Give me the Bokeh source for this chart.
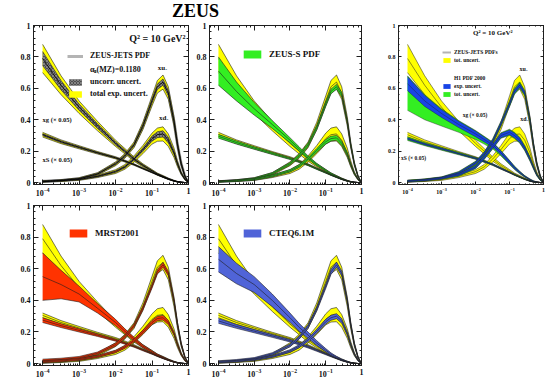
import math
from bokeh.plotting import figure
from bokeh.models import (Range1d, LogAxis, LinearAxis, SingleIntervalTicker,
                          CustomJSTickFormatter, Label, Legend, LegendItem, Div)
from bokeh.layouts import column, row
from bokeh.embed import file_html
from bokeh.resources import INLINE

# ---------------- data ----------------
X = [1e-4, 3.2e-4, 1e-3, 3.2e-3, 0.01, 0.018, 0.032, 0.056, 0.1, 0.14, 0.2, 0.28, 0.4, 0.5, 0.63, 0.8, 1.0]

# ZEUS-JETS: central, total exp. uncertainty, uncorrelated uncertainty
ZJ_UV = [0.008, 0.014, 0.025, 0.055, 0.12, 0.17, 0.24, 0.36, 0.52, 0.61, 0.64, 0.57, 0.39, 0.24, 0.12, 0.04, 0.0]
ZJ_UV_TOT = [0.004, 0.005, 0.006, 0.008, 0.012, 0.015, 0.018, 0.024, 0.032, 0.04, 0.045, 0.04, 0.03, 0.02, 0.012, 0.005, 0.0]
ZJ_UV_UNC = [0.002, 0.003, 0.003, 0.004, 0.006, 0.008, 0.009, 0.012, 0.015, 0.018, 0.02, 0.018, 0.014, 0.01, 0.006, 0.003, 0.0]
ZJ_DV = [0.006, 0.012, 0.02, 0.04, 0.07, 0.1, 0.15, 0.21, 0.28, 0.305, 0.31, 0.27, 0.19, 0.12, 0.06, 0.02, 0.0]
ZJ_DV_TOT = [0.004, 0.005, 0.006, 0.008, 0.012, 0.015, 0.02, 0.026, 0.035, 0.042, 0.045, 0.04, 0.03, 0.02, 0.01, 0.004, 0.0]
ZJ_DV_UNC = [0.002, 0.002, 0.003, 0.004, 0.006, 0.007, 0.009, 0.012, 0.016, 0.019, 0.02, 0.018, 0.013, 0.009, 0.005, 0.002, 0.0]
ZJ_G = [0.79, 0.62, 0.48, 0.36, 0.25, 0.20, 0.15, 0.11, 0.075, 0.055, 0.04, 0.025, 0.012, 0.006, 0.002, 0.0005, 0.0]
ZJ_G_TOT = [0.09, 0.06, 0.04, 0.03, 0.02, 0.017, 0.014, 0.01, 0.008, 0.006, 0.005, 0.004, 0.003, 0.002, 0.001, 0.0005, 0.0]
ZJ_G_UNC = [0.045, 0.03, 0.02, 0.015, 0.01, 0.008, 0.007, 0.005, 0.004, 0.003, 0.002, 0.002, 0.0015, 0.001, 0.0005, 0.0, 0.0]
ZJ_S = [0.305, 0.26, 0.225, 0.19, 0.158, 0.137, 0.115, 0.09, 0.065, 0.05, 0.035, 0.022, 0.01, 0.005, 0.002, 0.0005, 0.0]
ZJ_S_TOT = [0.015, 0.012, 0.01, 0.008, 0.007, 0.006, 0.005, 0.004, 0.003, 0.003, 0.002, 0.002, 0.001, 0.001, 0.0005, 0.0, 0.0]
ZJ_S_UNC = [0.007, 0.006, 0.005, 0.004, 0.0035, 0.003, 0.0025, 0.002, 0.0015, 0.0015, 0.001, 0.001, 0.0005, 0.0005, 0.0, 0.0, 0.0]

# ZEUS-S
ZS_UV = [0.008, 0.014, 0.026, 0.058, 0.12, 0.17, 0.24, 0.35, 0.5, 0.58, 0.61, 0.56, 0.39, 0.24, 0.12, 0.04, 0.0]
ZS_UV_ERR = [0.003, 0.004, 0.005, 0.006, 0.008, 0.01, 0.012, 0.014, 0.015, 0.015, 0.015, 0.014, 0.012, 0.009, 0.006, 0.003, 0.0]
ZS_DV = [0.006, 0.011, 0.02, 0.042, 0.075, 0.105, 0.15, 0.205, 0.26, 0.28, 0.285, 0.25, 0.18, 0.115, 0.058, 0.02, 0.0]
ZS_DV_ERR = [0.003, 0.004, 0.005, 0.006, 0.008, 0.009, 0.01, 0.012, 0.014, 0.015, 0.015, 0.014, 0.011, 0.008, 0.005, 0.002, 0.0]
ZS_G = [0.71, 0.58, 0.47, 0.37, 0.27, 0.215, 0.16, 0.115, 0.078, 0.057, 0.04, 0.025, 0.012, 0.006, 0.002, 0.0005, 0.0]
ZS_G_ERR = [0.09, 0.06, 0.04, 0.025, 0.016, 0.013, 0.01, 0.008, 0.006, 0.005, 0.004, 0.003, 0.002, 0.001, 0.001, 0.0, 0.0]
ZS_S = [0.295, 0.255, 0.22, 0.186, 0.153, 0.133, 0.112, 0.088, 0.063, 0.048, 0.034, 0.021, 0.01, 0.005, 0.002, 0.0005, 0.0]
ZS_S_ERR = [0.012, 0.01, 0.008, 0.007, 0.006, 0.005, 0.004, 0.004, 0.003, 0.002, 0.002, 0.001, 0.001, 0.001, 0.0, 0.0, 0.0]

# MRST2001
MR_UV = [0.02, 0.026, 0.037, 0.065, 0.12, 0.17, 0.24, 0.35, 0.49, 0.58, 0.625, 0.57, 0.4, 0.25, 0.125, 0.04, 0.0]
MR_UV_ERR = [0.008, 0.008, 0.008, 0.008, 0.01, 0.01, 0.011, 0.012, 0.013, 0.014, 0.015, 0.014, 0.012, 0.009, 0.006, 0.003, 0.0]
MR_DV = [0.012, 0.017, 0.026, 0.045, 0.077, 0.105, 0.145, 0.2, 0.26, 0.285, 0.29, 0.26, 0.19, 0.12, 0.06, 0.02, 0.0]
MR_DV_ERR = [0.006, 0.006, 0.006, 0.007, 0.008, 0.009, 0.01, 0.012, 0.013, 0.014, 0.015, 0.013, 0.011, 0.008, 0.005, 0.002, 0.0]
MR_G = [0.55, 0.5, 0.44, 0.35, 0.26, 0.205, 0.155, 0.11, 0.075, 0.055, 0.04, 0.025, 0.012, 0.006, 0.002, 0.0005, 0.0]
MR_G_ERR = [0.15, 0.09, 0.05, 0.03, 0.02, 0.015, 0.012, 0.009, 0.007, 0.005, 0.004, 0.003, 0.002, 0.001, 0.001, 0.0, 0.0]
MR_S = [0.275, 0.24, 0.21, 0.18, 0.148, 0.128, 0.108, 0.085, 0.062, 0.047, 0.033, 0.021, 0.01, 0.005, 0.002, 0.0005, 0.0]
MR_S_ERR = [0.015, 0.012, 0.01, 0.008, 0.006, 0.005, 0.004, 0.004, 0.003, 0.002, 0.002, 0.001, 0.001, 0.001, 0.0, 0.0, 0.0]

# CTEQ6.1M
CT_UV = [0.012, 0.02, 0.032, 0.062, 0.115, 0.165, 0.235, 0.345, 0.49, 0.58, 0.625, 0.57, 0.4, 0.25, 0.125, 0.04, 0.0]
CT_UV_ERR = [0.006, 0.006, 0.006, 0.007, 0.009, 0.01, 0.012, 0.013, 0.015, 0.016, 0.017, 0.016, 0.013, 0.01, 0.007, 0.003, 0.0]
CT_DV = [0.01, 0.015, 0.024, 0.045, 0.08, 0.11, 0.15, 0.205, 0.265, 0.29, 0.3, 0.27, 0.19, 0.12, 0.06, 0.02, 0.0]
CT_DV_ERR = [0.005, 0.005, 0.005, 0.006, 0.008, 0.009, 0.011, 0.013, 0.015, 0.016, 0.016, 0.015, 0.012, 0.009, 0.006, 0.003, 0.0]
CT_G = [0.66, 0.57, 0.5, 0.4, 0.29, 0.23, 0.18, 0.13, 0.085, 0.06, 0.04, 0.025, 0.012, 0.006, 0.002, 0.0005, 0.0]
CT_G_ERR = [0.08, 0.065, 0.05, 0.04, 0.03, 0.025, 0.02, 0.015, 0.01, 0.008, 0.006, 0.004, 0.003, 0.002, 0.001, 0.0, 0.0]
CT_S = [0.27, 0.235, 0.205, 0.175, 0.145, 0.125, 0.105, 0.083, 0.06, 0.046, 0.032, 0.02, 0.01, 0.005, 0.002, 0.0005, 0.0]
CT_S_ERR = [0.015, 0.012, 0.01, 0.009, 0.008, 0.007, 0.006, 0.005, 0.004, 0.003, 0.002, 0.002, 0.001, 0.001, 0.0, 0.0, 0.0]

# H1 PDF 2000
H1_UV = [0.01, 0.018, 0.03, 0.062, 0.125, 0.185, 0.265, 0.375, 0.5, 0.58, 0.62, 0.57, 0.4, 0.25, 0.125, 0.04, 0.0]
H1_UV_EXP = [0.003, 0.004, 0.005, 0.006, 0.008, 0.009, 0.01, 0.011, 0.012, 0.013, 0.013, 0.012, 0.01, 0.008, 0.005, 0.002, 0.0]
H1_UV_TOT = [0.005, 0.006, 0.007, 0.009, 0.011, 0.012, 0.014, 0.016, 0.018, 0.019, 0.02, 0.018, 0.015, 0.011, 0.007, 0.003, 0.0]
H1_DV = [0.01, 0.016, 0.028, 0.05, 0.1, 0.16, 0.23, 0.3, 0.32, 0.3, 0.27, 0.22, 0.15, 0.1, 0.05, 0.017, 0.0]
H1_DV_EXP = [0.004, 0.004, 0.005, 0.006, 0.008, 0.01, 0.012, 0.014, 0.015, 0.015, 0.014, 0.012, 0.01, 0.008, 0.005, 0.002, 0.0]
H1_DV_TOT = [0.006, 0.006, 0.007, 0.009, 0.011, 0.013, 0.016, 0.018, 0.02, 0.02, 0.019, 0.017, 0.014, 0.011, 0.007, 0.003, 0.0]
H1_G = [0.63, 0.52, 0.44, 0.37, 0.31, 0.275, 0.24, 0.19, 0.13, 0.095, 0.065, 0.04, 0.02, 0.01, 0.004, 0.001, 0.0]
H1_G_EXP = [0.045, 0.035, 0.025, 0.02, 0.018, 0.016, 0.014, 0.012, 0.01, 0.008, 0.006, 0.004, 0.003, 0.002, 0.001, 0.0, 0.0]
H1_G_TOT_LO = [0.17, 0.12, 0.08, 0.05, 0.035, 0.03, 0.025, 0.02, 0.015, 0.012, 0.009, 0.006, 0.004, 0.003, 0.001, 0.0, 0.0]
H1_G_TOT_HI = [0.05, 0.04, 0.03, 0.025, 0.022, 0.02, 0.018, 0.015, 0.012, 0.01, 0.008, 0.005, 0.003, 0.002, 0.001, 0.0, 0.0]
H1_S = [0.28, 0.245, 0.215, 0.185, 0.155, 0.135, 0.115, 0.09, 0.065, 0.05, 0.035, 0.022, 0.01, 0.005, 0.002, 0.0005, 0.0]
H1_S_EXP = [0.006, 0.005, 0.005, 0.004, 0.004, 0.003, 0.003, 0.003, 0.002, 0.002, 0.001, 0.001, 0.001, 0.0005, 0.0, 0.0, 0.0]
H1_S_TOT = [0.012, 0.01, 0.009, 0.008, 0.007, 0.006, 0.005, 0.004, 0.003, 0.003, 0.002, 0.002, 0.001, 0.001, 0.0005, 0.0, 0.0]

# ---------------- styling ----------------
SERIF = "Liberation Serif"
INK = "#1e1e1e"
YELLOW = "#ffff00"
GREEN = "#33ee22"
RED = "#ff3300"
BLUE_CT = "#5064d8"
BLUE_H1 = "#1844e6"
HATCH_FILL = "#4e4e4e"
GRAY_LINE = "#b4b4b4"

EMPTY = "return ''"
YFMT = ("if (Math.abs(tick) < 1e-9) return '0';"
        "if (Math.abs(tick - 1) < 1e-9) return '1';"
        "return tick.toFixed(1);")


def style_axis(ax, fs, tick_in):
    ax.axis_line_color = INK
    ax.axis_line_width = 1
    ax.major_tick_in = tick_in
    ax.major_tick_out = 0
    ax.minor_tick_in = max(1, tick_in // 2)
    ax.minor_tick_out = 0
    ax.major_tick_line_color = INK
    ax.minor_tick_line_color = INK
    ax.major_label_text_font = SERIF
    ax.major_label_text_font_style = "bold"
    ax.major_label_text_font_size = f"{fs}px"
    ax.major_label_text_color = "#111111"
    ax.major_label_standoff = 3


def make_fig(w, h, mbl, mbr, mbt, mbb, xlo, fs, tick_in):
    p = figure(width=w, height=h, x_axis_type="log",
               x_range=Range1d(xlo, 1.0), y_range=Range1d(-0.012, 1.0),
               output_backend="svg", toolbar_location=None,
               min_border_left=mbl, min_border_right=mbr,
               min_border_top=mbt, min_border_bottom=mbb)
    p.xgrid.visible = False
    p.ygrid.visible = False
    p.outline_line_color = INK
    p.background_fill_color = "white"
    p.border_fill_color = "white"
    xa = p.xaxis[0]
    ya = p.yaxis[0]
    ya.ticker = SingleIntervalTicker(interval=0.2, num_minor_ticks=5)
    ya.formatter = CustomJSTickFormatter(code=YFMT)
    xa.major_label_overrides = {1: "1"}
    style_axis(xa, fs, tick_in)
    style_axis(ya, fs, tick_in)
    top = LogAxis(formatter=CustomJSTickFormatter(code=EMPTY))
    right = LinearAxis(ticker=SingleIntervalTicker(interval=0.2, num_minor_ticks=5),
                       formatter=CustomJSTickFormatter(code=EMPTY))
    for ax in (top, right):
        style_axis(ax, 1, tick_in)
        ax.major_label_standoff = 0
    p.add_layout(top, "above")
    p.add_layout(right, "right")
    return p


def band(p, c, e_lo, e_hi, color, lw=0.6, central=True, hatch=None):
    lo = [a - b for a, b in zip(c, e_lo)]
    hi = [a + b for a, b in zip(c, e_hi)]
    kw = {}
    if hatch:
        kw = dict(hatch_pattern=hatch, hatch_color="#a8a8a8", hatch_scale=3, hatch_weight=0.6)
    r = p.varea(x=X, y1=lo, y2=hi, fill_color=color, **kw)
    p.line(X, lo, line_color=INK, line_width=lw)
    p.line(X, hi, line_color=INK, line_width=lw)
    if central:
        p.line(X, c, line_color=INK, line_width=lw)
    return r


def zeus_jets(p, lw=0.6):
    rs = []
    for c, e in ((ZJ_G, ZJ_G_TOT), (ZJ_S, ZJ_S_TOT), (ZJ_UV, ZJ_UV_TOT), (ZJ_DV, ZJ_DV_TOT)):
        rs.append(band(p, c, e, e, YELLOW, lw=lw))
    return rs[0]


def add_legend(p, items, loc, fs, gw, gh, sp, standoff):
    lg = Legend(items=[LegendItem(label=t, renderers=[r]) for t, r in items],
                location=loc, orientation="vertical",
                glyph_width=gw, glyph_height=gh, label_height=gh, label_width=10,
                spacing=sp, padding=0, margin=0, label_standoff=standoff,
                label_text_font=SERIF, label_text_font_style="bold",
                label_text_font_size=f"{fs}px", label_text_color="#111111",
                border_line_color=None, background_fill_alpha=0)
    p.add_layout(lg)


def lab(p, x, y, text, fs, align="center", xu="data", yu="data", angle=0.0, xoff=0):
    p.add_layout(Label(x=x, y=y, x_units=xu, y_units=yu, text=text, x_offset=xoff,
                       text_font=SERIF, text_font_style="bold",
                       text_font_size=f"{fs}px", text_align=align,
                       text_baseline="middle", angle=angle, text_color="#111111"))


XLO = 10 ** -4.25
XLO3 = 10 ** -4.265

# ---------------- panel 1: ZEUS-JETS ----------------
f1 = make_fig(193, 180, 33, 5, 5, 16, XLO, 8, 5)
ln1 = f1.line(X, ZJ_UV, line_color=GRAY_LINE, line_width=3)
yel1 = zeus_jets(f1)
hat1 = None
for c, e in ((ZJ_G, ZJ_G_UNC), (ZJ_S, ZJ_S_UNC), (ZJ_UV, ZJ_UV_UNC), (ZJ_DV, ZJ_DV_UNC)):
    r = band(f1, c, e, e, HATCH_FILL, lw=0.5, central=False, hatch="x")
    hat1 = hat1 or r
for c in (ZJ_G, ZJ_S, ZJ_UV, ZJ_DV):
    f1.line(X, c, line_color="black", line_width=0.8)
blank1 = f1.line(x=[], y=[], line_alpha=0)
add_legend(f1, [("ZEUS-JETS PDF", ln1), ("αₛ(MZ)=0.1180", blank1),
                ("uncorr. uncert.", hat1), ("total exp. uncert.", yel1)],
           (34, 86), 8, 16, 8, 3, 7)
lab(f1, 0.195, 0.728, "xuᵥ", 7)
lab(f1, 0.21, 0.41, "xdᵥ", 7)
lab(f1, 1e-4, 0.40, "xg (× 0.05)", 6.5, align="left")
lab(f1, 1e-4, 0.146, "xS (× 0.05)", 6.5, align="left")
lab(f1, 0.83, 0.92, "Q² = 10 GeV²", 10, align="right")
lab(f1, -23, 144, "xf", 16, xu="screen", yu="screen", angle=math.pi / 2)

# ---------------- panel 2: ZEUS-S ----------------
f2 = make_fig(177, 180, 15, 9, 5, 16, XLO, 8, 5)
zeus_jets(f2)
grn2 = None
for c, e in ((ZS_G, ZS_G_ERR), (ZS_S, ZS_S_ERR), (ZS_UV, ZS_UV_ERR), (ZS_DV, ZS_DV_ERR)):
    r = band(f2, c, e, e, GREEN)
    grn2 = grn2 or r
add_legend(f2, [("ZEUS-S PDF", grn2)], (32, 125), 9, 22, 10, 0, 6)

# ---------------- panel 3: ZEUS-JETS vs H1 ----------------
f3 = make_fig(182, 180, 28, 9, 5, 16, XLO3, 6, 3)
ln3 = f3.line(X, ZJ_UV, line_color=GRAY_LINE, line_width=2)
yel3 = zeus_jets(f3, lw=0.5)
grn3 = band(f3, H1_G, H1_G_TOT_LO, H1_G_TOT_HI, GREEN, lw=0.4, central=False)
for c, e in ((H1_S, H1_S_TOT), (H1_UV, H1_UV_TOT), (H1_DV, H1_DV_TOT)):
    band(f3, c, e, e, GREEN, lw=0.4, central=False)
blu3 = None
for c, e in ((H1_G, H1_G_EXP), (H1_S, H1_S_EXP), (H1_UV, H1_UV_EXP), (H1_DV, H1_DV_EXP)):
    r = band(f3, c, e, e, BLUE_H1, lw=0.4)
    blu3 = blu3 or r
blank3 = f3.line(x=[], y=[], line_alpha=0)
add_legend(f3, [("ZEUS-JETS PDFs", ln3), ("tot. uncert.", yel3)],
           (44, 121), 5.5, 9, 6, 2, 3)
add_legend(f3, [("H1 PDF 2000", blank3), ("exp. uncert.", blu3), ("tot. uncert.", grn3)],
           (44, 87), 5.5, 9, 6, 2, 3)
lab(f3, 0.26, 0.72, "xuᵥ", 6)
lab(f3, 0.275, 0.405, "xdᵥ", 6)
lab(f3, 0.0042, 0.43, "xg (× 0.05)", 5.5, align="left")
lab(f3, 1.5e-4, 0.158, "xS (× 0.05)", 5.5)
lab(f3, 0.123, 0.95, "Q² = 10 GeV²", 7, align="right")
lab(f3, -15, 151, "xf", 8, xu="screen", yu="screen", angle=math.pi / 2)
lab(f3, 1.0, -8, "x", 7, align="left", yu="screen", xoff=2)

# ---------------- panel 4: MRST2001 ----------------
f4 = make_fig(193, 192, 33, 5, 5, 27, XLO, 8, 5)
zeus_jets(f4)
red4 = None
for c, e in ((MR_G, MR_G_ERR), (MR_S, MR_S_ERR), (MR_UV, MR_UV_ERR), (MR_DV, MR_DV_ERR)):
    r = band(f4, c, e, e, RED)
    red4 = red4 or r
add_legend(f4, [("MRST2001", red4)], (34, 127), 9, 22, 10, 0, 6)

# ---------------- panel 5: CTEQ6.1M ----------------
f5 = make_fig(177, 192, 15, 9, 5, 27, XLO, 8, 5)
zeus_jets(f5)
blu5 = None
for c, e in ((CT_G, CT_G_ERR), (CT_S, CT_S_ERR), (CT_UV, CT_UV_ERR), (CT_DV, CT_DV_ERR)):
    r = band(f5, c, e, e, BLUE_CT)
    blu5 = blu5 or r
add_legend(f5, [("CTEQ6.1M", blu5)], (32, 127), 9, 22, 10, 0, 6)
lab(f5, 1.0, -18, "X", 13, align="right", yu="screen", xoff=2)

title = Div(text=("<div style=\"font: bold 18px 'Liberation Serif'; line-height: 18px; "
                  "position: relative; left: 172px; top: 2px; white-space: nowrap; "
                  "color: #000;\">ZEUS</div>"),
            width=552, height=20, margin=(0, 0, 0, 0))

layout = column(title, row(f1, f2, f3, spacing=0), row(f4, f5, spacing=0), spacing=0)

open("out.html", "w").write(file_html(layout, INLINE))
